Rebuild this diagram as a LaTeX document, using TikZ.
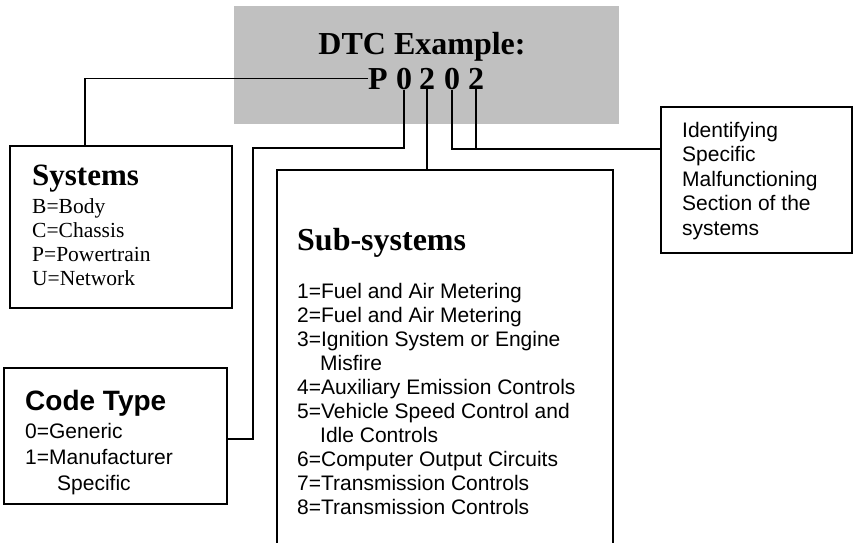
\documentclass[tikz,border=0pt]{standalone}
\usepackage{fontspec}
\setmainfont{Liberation Serif}
\setsansfont{Liberation Sans}
\definecolor{greybg}{RGB}{192,192,192}
\tikzset{
  box/.style={draw=black, line width=1.8pt, rectangle, inner sep=0pt, outer sep=0pt, anchor=north west, fill=white},
  conn/.style={draw=black, line width=1.8pt},
  serifbig/.style={font=\fontsize{32}{36}\selectfont\bfseries, inner sep=0pt},
  titleserif/.style={font=\fontsize{31}{34}\selectfont\bfseries, inner sep=0pt, anchor=base west},
  listserif/.style={font=\fontsize{21.5}{24}\selectfont, inner sep=0pt, anchor=base west},
  titlesans/.style={font=\sffamily\fontsize{28}{30}\selectfont\bfseries, inner sep=0pt, anchor=base west},
  listsans/.style={font=\sffamily\fontsize{21}{24}\selectfont, inner sep=0pt, anchor=base west}
}
\begin{document}
\begin{tikzpicture}[x=1pt,y=-1pt]
\clip (0,0) rectangle (854,543);
\fill[white] (0,0) rectangle (854,543);
% grey header
\node[anchor=north west, fill=greybg, minimum width=385pt, minimum height=118pt, inner sep=0pt, outer sep=0pt] (hdr) at (234,6) {};
\node[serifbig, anchor=base] (title) at (422,55) {DTC Example:};
\node[serifbig, anchor=base west] (P) at (368,89) {P};
\node[serifbig, anchor=base] (d1) at (404,89) {0};
\node[serifbig, anchor=base] (d2) at (427,89) {2};
\node[serifbig, anchor=base] (d3) at (452,89) {0};
\node[serifbig, anchor=base] (d4) at (476,89) {2};

% boxes
\node[box, minimum width=222pt, minimum height=162pt] (sys) at (10,146) {};
\node[box, minimum width=223pt, minimum height=136pt] (code) at (4,368) {};
\node[box, minimum width=336pt, minimum height=420pt] (sub) at (277,170) {};
\node[box, minimum width=191pt, minimum height=146pt] (ident) at (661,107) {};

% connectors
\coordinate (s1) at (85,146);
\coordinate (b1) at (253,148);
\coordinate (j) at (476,149);
\draw[conn] (P.west) -| (s1);
\draw[conn] (d1.south) |- (b1) |- ([yshift=-3pt]code.east);
\draw[conn] (d2.south) -- (d2.south |- sub.north);
\draw[conn] (d3.south) |- (j);
\draw[conn] (d4.south) -- (j) -- (j -| ident.west);

% Systems text
\node[titleserif] (systitle) at (32,185) {Systems};
\node[listserif] (sysB) at (32,213) {B=Body};
\node[listserif] (sysC) at (32,237) {C=Chassis};
\node[listserif] (sysP) at (32,261) {P=Powertrain};
\node[listserif] (sysU) at (32,285) {U=Network};

% Code type text
\node[titlesans] (codetitle) at (25,410) {Code Type};
\node[listsans] (code0) at (25,438) {0=Generic};
\node[listsans] (code1) at (25,464) {1=Manufacturer};
\node[listsans] (code1b) at (57,490) {Specific};

% Sub-systems text
\node[titleserif, font=\fontsize{32}{34}\selectfont\bfseries] (subtitle) at (297,250) {Sub-systems};
\node[listsans] (s01) at (297,298) {1=Fuel and Air Metering};
\node[listsans] (s02) at (297,322) {2=Fuel and Air Metering};
\node[listsans] (s03) at (297,346) {3=Ignition System or Engine};
\node[listsans] (s03b) at (320,370) {Misfire};
\node[listsans] (s04) at (297,394) {4=Auxiliary Emission Controls};
\node[listsans] (s05) at (297,418) {5=Vehicle Speed Control and};
\node[listsans] (s05b) at (320,442) {Idle Controls};
\node[listsans] (s06) at (297,466) {6=Computer Output Circuits};
\node[listsans] (s07) at (297,490) {7=Transmission Controls};
\node[listsans] (s08) at (297,514) {8=Transmission Controls};

% Identifying text
\node[listsans] (i1) at (682,137) {Identifying};
\node[listsans] (i2) at (682,161.5) {Specific};
\node[listsans] (i3) at (682,186) {Malfunctioning};
\node[listsans] (i4) at (682,210.5) {Section of the};
\node[listsans] (i5) at (682,235) {systems};
\end{tikzpicture}
\end{document}
